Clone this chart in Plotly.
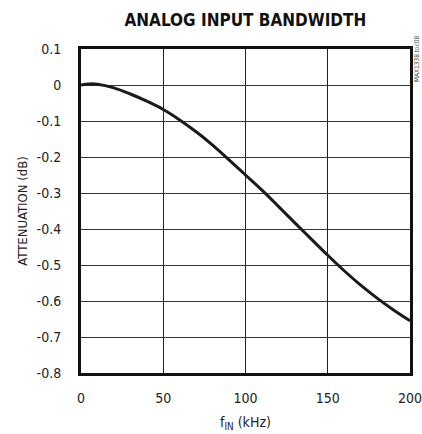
import plotly.graph_objects as go

freq_khz = [0, 5, 10, 20, 30, 40, 50, 60, 70, 80, 90, 100, 110, 120, 130, 140, 150, 160, 170, 180, 190, 200]
atten_db = [0.0, 0.003, 0.002, -0.008, -0.025, -0.045, -0.068, -0.097, -0.13, -0.167, -0.208, -0.25, -0.292, -0.337, -0.383, -0.428, -0.473, -0.516, -0.556, -0.592, -0.625, -0.655]

x_ticks = [0, 50, 100, 150, 200]
y_ticks = [0.1, 0, -0.1, -0.2, -0.3, -0.4, -0.5, -0.6, -0.7, -0.8]
y_tick_text = ["0.1", "0", "-0.1", "-0.2", "-0.3", "-0.4", "-0.5", "-0.6", "-0.7", "-0.8"]

FONT = "DejaVu Sans Condensed, Roboto, sans-serif"

fig = go.Figure()
fig.add_trace(go.Scatter(
    x=freq_khz, y=atten_db, mode="lines",
    line=dict(color="#1a1a1a", width=3, shape="spline"),
    hoverinfo="skip", showlegend=False,
))

fig.update_layout(
    width=422, height=434,
    margin=dict(l=81, r=12, t=49, b=61, autoexpand=False),
    paper_bgcolor="white", plot_bgcolor="white",
    font=dict(family=FONT, size=14, color="#222"),
    title=dict(text="<b>ANALOG INPUT BANDWIDTH</b>", x=0.5815, xanchor="center",
               y=0.953, yanchor="middle",
               font=dict(family=FONT, size=17, color="#111")),
    xaxis=dict(range=[0, 200], tickvals=x_ticks, showgrid=True, gridcolor="#222", gridwidth=1,
               showline=True, linecolor="#111", linewidth=3, mirror=True, zeroline=False,
               ticks="", ticklabelstandoff=10, automargin=False, ticklabeloverflow="allow",
               title=dict(text="f<sub>IN</sub> (kHz)", standoff=13, font=dict(size=14))),
    yaxis=dict(range=[-0.8, 0.1], tickvals=y_ticks, ticktext=y_tick_text, showgrid=True,
               gridcolor="#333", gridwidth=1,
               showline=True, linecolor="#111", linewidth=3, mirror=True, zeroline=False,
               ticks="", ticklabelstandoff=14, automargin=False, ticklabeloverflow="allow",
               title=dict(text="ATTENUATION (dB)", standoff=7, font=dict(size=13))),
)

fig.add_annotation(text="MAX1338 toc08", xref="paper", yref="paper", x=1.0, y=1.0,
                   xshift=7, yshift=-10, textangle=-90, showarrow=False,
                   font=dict(family=FONT, size=6.5, color="#444"), xanchor="center", yanchor="middle")

fig.write_html("out.html", config={"displayModeBar": False},
               post_script="document.body.style.margin='0';document.body.style.padding='0';")
